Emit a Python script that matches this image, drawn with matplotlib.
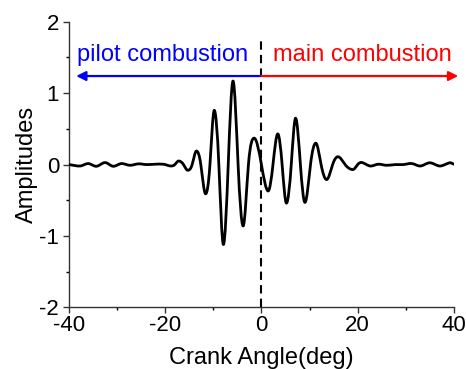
import matplotlib
matplotlib.use("Agg")
import matplotlib.pyplot as plt
from matplotlib.path import Path
from matplotlib.patches import PathPatch
from matplotlib.ticker import MultipleLocator
import numpy as np

plt.rcParams['font.family'] = ['Liberation Sans', 'DejaVu Sans']
plt.rcParams['axes.unicode_minus'] = False

# Data (extrema and zero crossings of the signal)
crank_angle = [-40.0, -37.7, -36.0, -34.3, -32.5, -30.8, -29.1, -27.3, -25.6, -23.9,
               -22.1, -20.4, -18.8, -18.0, -17.2, -16.2, -15.3, -14.4, -13.5, -12.6,
               -11.6, -10.7, -9.8, -8.85, -7.9, -6.9, -5.9, -4.85, -3.8, -2.7,
               -1.5, 0.0, 1.4, 2.4, 3.4, 4.3, 5.2, 6.2, 7.1, 8.1,
               9.05, 10.2, 11.3, 12.4, 13.55, 14.8, 15.9, 17.4, 19.0, 20.0,
               20.8, 22.6, 24.3, 26.0, 27.8, 29.5, 31.2, 33.0, 35.0, 37.1,
               39.2, 40.0]
amplitude = [0.0, -0.02, 0.014, -0.024, 0.028, -0.024, 0.014, -0.01, 0.01, 0.0,
             0.005, 0.005, -0.02, 0.0, 0.05, 0.0, -0.08, 0.0, 0.19, 0.0,
             -0.41, 0.0, 0.76, 0.0, -1.12, 0.0, 1.17, 0.0, -0.86, 0.0,
             0.37, 0.0, -0.37, 0.0, 0.43, 0.0, -0.54, 0.0, 0.65, 0.0,
             -0.53, 0.0, 0.30, 0.0, -0.21, 0.0, 0.11, 0.0, -0.07, 0.0,
             0.03, -0.02, 0.005, -0.01, 0.0, 0.0, 0.015, -0.02, 0.025, -0.02,
             0.025, 0.005]

x_ticks = [-40, -20, 0, 20, 40]
y_ticks = [-2, -1, 0, 1, 2]
arrow_level = 1.24
pilot_label = "pilot combustion"
main_label = "main combustion"

fig = plt.figure(figsize=(4.66, 3.69), dpi=100)
ax = fig.add_axes([0.148, 0.167, 0.826, 0.774])

# smooth curve via cubic Hermite -> Bezier segments
xs = np.array(crank_angle, dtype=float)
ys = np.array(amplitude, dtype=float)
n = len(xs)
m = np.zeros(n)
for i in range(n):
    if 0 < i < n - 1:
        m[i] = (ys[i + 1] - ys[i - 1]) / (xs[i + 1] - xs[i - 1])
        if ys[i] == 0.0:
            m[i] *= 1.5
    elif i == 0:
        m[i] = (ys[1] - ys[0]) / (xs[1] - xs[0])
    else:
        m[i] = (ys[-1] - ys[-2]) / (xs[-1] - xs[-2])
verts = [(xs[0], ys[0])]
codes = [Path.MOVETO]
for i in range(n - 1):
    h = xs[i + 1] - xs[i]
    verts += [(xs[i] + h / 3, ys[i] + m[i] * h / 3),
              (xs[i + 1] - h / 3, ys[i + 1] - m[i + 1] * h / 3),
              (xs[i + 1], ys[i + 1])]
    codes += [Path.CURVE4] * 3
ax.add_patch(PathPatch(Path(verts, codes), fill=False, edgecolor='black',
                       lw=2.0, capstyle='round', joinstyle='round', zorder=3))

# dashed divider
ax.plot([0, 0], [-2, 1.75], color='black', lw=1.5, ls=(0, (4, 2.5)), zorder=2)

# arrows
ax.annotate('', xy=(-38.5, arrow_level), xytext=(0, arrow_level),
            arrowprops=dict(arrowstyle='-|>', color='blue', lw=1.6,
                            mutation_scale=14, shrinkA=0, shrinkB=0),
            annotation_clip=False)
ax.annotate('', xy=(40.9, arrow_level), xytext=(0, arrow_level),
            arrowprops=dict(arrowstyle='-|>', color='red', lw=1.6,
                            mutation_scale=14, shrinkA=0, shrinkB=0),
            annotation_clip=False)
ax.text(-38.3, 1.53, pilot_label, color='blue', fontsize=17, ha='left', va='center')
ax.text(2.4, 1.53, main_label, color='red', fontsize=17, ha='left', va='center')

ax.set_xlim(-40, 40)
ax.set_ylim(-2, 2)
ax.set_xticks(x_ticks)
ax.set_yticks(y_ticks)
ax.xaxis.set_minor_locator(MultipleLocator(10))
ax.yaxis.set_minor_locator(MultipleLocator(0.5))
ax.tick_params(which='major', direction='out', length=4, width=1, labelsize=16)
ax.tick_params(which='minor', direction='out', length=2.5, width=1)
ax.tick_params(axis='x', which='major', pad=1.5)
ax.tick_params(axis='y', which='major', pad=3)
for s in ['top', 'right']:
    ax.spines[s].set_visible(False)
for s in ['left', 'bottom']:
    ax.spines[s].set_linewidth(1.0)
    ax.spines[s].set_color('#333333')
ax.tick_params(colors='#333333', labelcolor='black')
ax.set_xlabel('Crank Angle(deg)', fontsize=17, labelpad=8)
ax.set_ylabel('Amplitudes', fontsize=17, labelpad=1)

fig.savefig('out.png', dpi=100)
